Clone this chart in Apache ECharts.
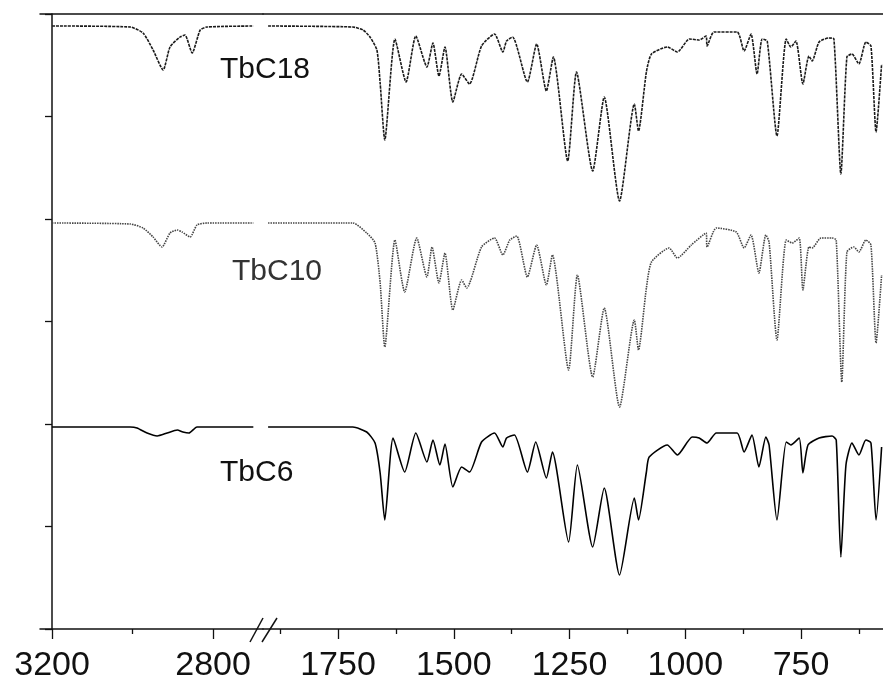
<!DOCTYPE html>
<html>
<head>
<meta charset="utf-8">
<script src="https://cdn.jsdelivr.net/npm/echarts@6/dist/echarts.min.js"></script>
<style>
  html, body { margin: 0; padding: 0; background: #fff; }
  #chart { width: 883px; height: 689px; }
</style>
</head>
<body>
<div id="chart"></div>
<script>
// wavenumber ticks (cm-1), axis is broken between 2676 and 1912
var highLabels = [3200, 2800];
var highMinor = [3000];
var lowLabels = [1750, 1500, 1250, 1000, 750];
var lowMinor = [1875, 1625, 1375, 1125, 875, 625];

// traces, [wavenumber, offset transmittance (a.u.)]
var tbc18High = [[3200,603],[3006,602],[2974,596],[2949,579],[2924,559],[2907,582],[2882,592],[2870,594],[2852,576],[2832,599],[2815,602],[2700,603]];
var tbc18Low = [[1901,603],[1718,602],[1696,599],[1681,592],[1666,579],[1659,546],[1649,489],[1627,590],[1603,547],[1582,593],[1558,562],[1545,586],[1532,553],[1519,582],[1502,527],[1483,555],[1466,545],[1440,583],[1412,595],[1394,577],[1386,588],[1373,592],[1341,547],[1321,585],[1300,538],[1285,572],[1254,468],[1235,557],[1200,458],[1175,532],[1142,428],[1110,525],[1101,498],[1084,557],[1073,575],[1039,582],[1017,577],[991,590],[970,589],[955,593],[953,583],[938,597],[888,597],[873,578],[858,595],[845,555],[834,590],[823,588],[802,493],[782,590],[772,582],[761,588],[746,545],[733,573],[726,568],[711,587],[690,591],[679,590],[664,455],[651,572],[640,575],[625,565],[610,587],[599,583],[588,497],[576,565]];

var tbc10High = [[3200,406],[3006,405],[2974,401],[2949,392],[2927,382],[2907,396],[2889,399],[2877,397],[2857,392],[2840,404],[2815,406],[2700,406]];
var tbc10Low = [[1901,406],[1718,406],[1688,396],[1670,386],[1659,346],[1649,282],[1627,389],[1606,337],[1580,391],[1558,352],[1547,382],[1532,346],[1519,376],[1502,319],[1483,349],[1472,341],[1440,382],[1412,391],[1394,374],[1379,389],[1364,393],[1341,352],[1321,384],[1300,344],[1287,374],[1252,259],[1233,354],[1200,252],[1175,321],[1142,222],[1110,309],[1101,279],[1084,341],[1073,367],[1035,381],[1017,371],[987,384],[955,396],[953,382],[933,401],[890,397],[873,381],[858,394],[841,356],[826,394],[819,387],[802,289],[782,389],[769,386],[754,391],[746,339],[733,382],[726,381],[707,391],[683,391],[674,389],[662,247],[651,377],[636,382],[625,377],[610,389],[599,384],[588,286],[576,354]];

var tbc6High = [[3200,202],[3006,202],[2989,201],[2964,196],[2939,193],[2914,196],[2889,199],[2875,197],[2860,196],[2840,202],[2700,202]];
var tbc6Low = [[1901,202],[1718,202],[1688,197],[1670,186],[1659,156],[1649,109],[1631,191],[1606,157],[1582,196],[1558,167],[1545,189],[1530,164],[1519,185],[1502,142],[1483,162],[1466,157],[1440,187],[1412,196],[1394,182],[1386,191],[1369,194],[1341,157],[1323,187],[1300,151],[1287,177],[1252,87],[1233,164],[1200,82],[1175,141],[1142,54],[1110,131],[1101,109],[1084,157],[1078,172],[1039,184],[1017,174],[985,192],[970,191],[953,186],[933,196],[888,196],[873,177],[856,194],[841,162],[826,192],[819,184],[802,109],[782,187],[772,184],[754,191],[746,156],[735,184],[711,191],[683,193],[674,189],[664,72],[653,164],[640,186],[625,174],[610,189],[599,186],[588,109],[576,182]];

var names = ['TbC18', 'TbC10', 'TbC6'];

var myChart = echarts.init(document.getElementById('chart'));

var black = '#111';
var font = '"Liberation Sans", Arial, sans-serif';

function bottomAxis(grid, min, max, labels, ticks, len) {
    return {
        type: 'value', gridIndex: grid, position: 'bottom', inverse: true,
        min: min, max: max,
        axisLine: { show: labels != null, lineStyle: { color: black, width: 1.5 } },
        axisTick: { show: true, inside: false, length: len, customValues: ticks, lineStyle: { color: black, width: 1.3 } },
        axisLabel: labels ? {
            show: true, customValues: labels, color: black, fontSize: 34, fontFamily: font, margin: 20,
            formatter: function (v) { return String(v); }
        } : { show: false },
        splitLine: { show: false }
    };
}
function topAxis(grid, min, max) {
    return {
        type: 'value', gridIndex: grid, position: 'top', inverse: true,
        min: min, max: max,
        axisLine: { show: true, lineStyle: { color: black, width: 1.5 } },
        axisTick: { show: false }, axisLabel: { show: false }, splitLine: { show: false }
    };
}
function line(data, axis, type, color) {
    return {
        type: 'line', xAxisIndex: axis, yAxisIndex: axis === 0 ? 0 : 1,
        data: data, showSymbol: false, symbol: 'none', smooth: 0.2, animation: false,
        lineStyle: { color: color, width: 1.6, type: type }
    };
}

var option = {
    animation: false,
    grid: [
        { left: 40, width: 223, top: 14, bottom: 60 },
        { left: 263, right: 0, top: 14, bottom: 60 }
    ],
    xAxis: [
        bottomAxis(0, 2676, 3230, highLabels, highLabels, 10),
        bottomAxis(1, 573, 1912, lowLabels, lowLabels, 10),
        bottomAxis(0, 2676, 3230, null, highMinor, 5),
        bottomAxis(1, 573, 1912, null, lowMinor, 5),
        topAxis(0, 2676, 3230),
        topAxis(1, 573, 1912)
    ],
    yAxis: [
        {
            type: 'value', gridIndex: 0, min: 0, max: 615, interval: 102.5, offset: -12,
            axisLine: { show: true, lineStyle: { color: black, width: 1.5 } },
            axisTick: { show: true, length: 7, lineStyle: { color: black, width: 1.3 } },
            axisLabel: { show: false }, splitLine: { show: false }
        },
        {
            type: 'value', gridIndex: 1, min: 0, max: 615, interval: 102.5,
            show: false, splitLine: { show: false }
        }
    ],
    series: [
        line(tbc18High, 0, [3, 1], '#1a1a1a'),
        line(tbc18Low, 1, [3, 1], '#1a1a1a'),
        line(tbc10High, 0, [1.5, 1], '#444'),
        line(tbc10Low, 1, [1.5, 1], '#444'),
        line(tbc6High, 0, 'solid', '#000'),
        line(tbc6Low, 1, 'solid', '#000')
    ],
    graphic: [
        { type: 'text', left: 220, top: 55, style: { text: names[0], font: '30px ' + font, fill: black } },
        { type: 'text', left: 232, top: 257, style: { text: names[1], font: '30px ' + font, fill: '#333' } },
        { type: 'text', left: 220, top: 458, style: { text: names[2], font: '30px ' + font, fill: black } },
        { type: 'line', shape: { x1: 250, y1: 642, x2: 263, y2: 618 }, style: { stroke: black, lineWidth: 1.5 } },
        { type: 'line', shape: { x1: 262, y1: 642, x2: 277, y2: 618 }, style: { stroke: black, lineWidth: 1.5 } }
    ]
};

myChart.setOption(option);
</script>
</body>
</html>
